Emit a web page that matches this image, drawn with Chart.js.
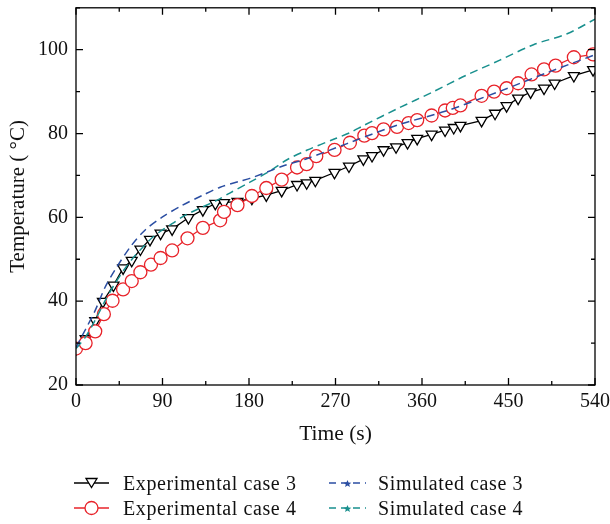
<!DOCTYPE html>
<html>
<head>
<meta charset="utf-8">
<script src="https://cdn.jsdelivr.net/npm/chart.js@4.4.1/dist/chart.umd.min.js"></script>
<style>
  html, body { margin: 0; padding: 0; background: #fff; }
  #wrap { position: relative; width: 610px; height: 524px; }
  #chart { position: absolute; left: 0; top: 0; }
  .leg { position: absolute; font-family: 'Liberation Serif', 'DejaVu Serif', serif; font-size: 20px; letter-spacing: 0.6px; color: #111; line-height: 22px; white-space: nowrap; }
  .leg svg { position: absolute; top: 0; left: 0; }
</style>
</head>
<body>
<div id="wrap">
  <canvas id="chart" width="610" height="524"></canvas>
  <div class="leg" style="left:74px; top:472px;"><svg width="40" height="22"><line x1="0" y1="11" x2="35" y2="11" stroke="#000" stroke-width="1.3"/><polygon points="12,6.5 23,6.5 17.5,15.5" fill="#fff" stroke="#000" stroke-width="1.3"/></svg><span style="margin-left:49px">Experimental case 3</span></div>
  <div class="leg" style="left:74px; top:497px;"><svg width="40" height="22"><line x1="0" y1="11" x2="35" y2="11" stroke="#e8232a" stroke-width="1.3"/><circle cx="17.5" cy="11" r="6.5" fill="#fff" stroke="#e8232a" stroke-width="1.3"/></svg><span style="margin-left:49px">Experimental case 4</span></div>
  <div class="leg" style="left:329px; top:472px;"><svg width="40" height="22"><line x1="0" y1="11" x2="37" y2="11" stroke="#2b4ea2" stroke-width="1.5" stroke-dasharray="7,5"/><polygon points="18.5,8 19.6,10.6 22.3,10.8 20.2,12.5 21,15 18.5,13.6 16,15 16.8,12.5 14.7,10.8 17.4,10.6" fill="#2b4ea2"/></svg><span style="margin-left:49px">Simulated case 3</span></div>
  <div class="leg" style="left:329px; top:497px;"><svg width="40" height="22"><line x1="0" y1="11" x2="37" y2="11" stroke="#19908e" stroke-width="1.5" stroke-dasharray="7,5"/><polygon points="18.5,8 19.6,10.6 22.3,10.8 20.2,12.5 21,15 18.5,13.6 16,15 16.8,12.5 14.7,10.8 17.4,10.6" fill="#19908e"/></svg><span style="margin-left:49px">Simulated case 4</span></div>
</div>
<script>
// --- DATA ---
// Experimental case 3 (open down triangles)
const exp3Time = [0, 10, 20, 28, 39, 49, 58, 67, 77, 88, 100, 117, 132, 145, 154, 168, 183, 198, 214, 230, 240, 249, 269, 284, 299, 308, 320, 333, 345, 355, 370, 384, 393, 400, 422, 436, 448, 460, 473, 487, 498, 518, 538];
const exp3Temp = [28.7, 31, 35.3, 39.9, 43.8, 47.9, 49.7, 52.4, 54.7, 56.2, 57.2, 59.9, 61.8, 63.3, 63.5, 63.8, 64.5, 65.3, 66.4, 67.8, 68.2, 68.8, 70.7, 72.2, 73.9, 74.7, 76.1, 76.8, 77.8, 78.8, 79.8, 80.8, 81.4, 81.9, 83.1, 84.8, 86.6, 88.4, 89.9, 90.8, 92.0, 93.8, 95.2];

// Experimental case 4 (open circles)
const exp4Time = [0, 10, 20, 29, 38, 49, 58, 67, 78, 88, 100, 116, 132, 150, 154, 168, 183, 198, 214, 230, 240, 250, 269, 285, 300, 308, 320, 334, 346, 355, 370, 384, 392, 400, 422, 435, 448, 460, 474, 487, 499, 518, 538];
const exp4Temp = [28.7, 30, 32.8, 36.9, 40.1, 42.8, 44.8, 46.9, 48.7, 50.3, 52.1, 55, 57.5, 59.3, 61.3, 62.9, 65.1, 67, 69, 71.9, 72.7, 74.6, 76.1, 77.8, 79.5, 80.1, 81, 81.6, 82.5, 83.2, 84.3, 85.5, 86.1, 86.7, 89, 90, 90.8, 92, 94.1, 95.3, 96.2, 98.2, 98.9];

// Simulated case 3 (blue dashed)
const sim3Time = [0, 10, 20, 30, 42, 58, 72, 90, 110, 132, 150, 170, 181, 216, 240, 282, 334, 384, 440, 490, 540];
const sim3Temp = [29, 33.3, 37.8, 43.2, 48, 53.4, 57, 60.1, 62.8, 65.3, 67.2, 68.6, 69.3, 72.3, 74, 77.6, 82, 85.3, 90, 94.5, 98.8];

// Simulated case 4 (teal dashed)
const sim4Time = [0, 10, 20, 30, 40, 50, 60, 70, 80, 90, 100, 112, 130, 146, 160, 181, 200, 220, 240, 270, 285, 300, 335, 372, 406, 441, 476, 511, 540];
const sim4Temp = [28.7, 31.5, 35.5, 40, 44, 47.5, 50.5, 53, 55.3, 57, 58.5, 60.3, 62.3, 64, 65.8, 68.4, 70.8, 73.8, 76, 78.8, 80.2, 82, 86, 90, 93.9, 97.5, 101.2, 103.8, 107.3];

// axis ranges / ticks
const X_MIN = 0, X_MAX = 540, X_STEP = 90;
const Y_MIN = 20, Y_MAX = 110, Y_STEP = 20;

const FONT = "'Liberation Serif', 'DejaVu Serif', serif";

const toPoints = (xs, ys) => xs.map((x, i) => ({ x: x, y: ys[i] }));

// frame with inward ticks on all four sides
const framePlugin = {
    id: 'frame',
    afterDatasetsDraw(chart) {
        const { ctx, chartArea: a, scales } = chart;
        ctx.save();
        ctx.strokeStyle = '#000';
        ctx.lineWidth = 1.3;
        ctx.strokeRect(a.left, a.top, a.right - a.left, a.bottom - a.top);
        ctx.beginPath();
        for (let v = X_MIN; v <= X_MAX; v += X_STEP / 2) {
            const px = scales.x.getPixelForValue(v);
            const len = v % X_STEP === 0 ? 7 : 4;
            ctx.moveTo(px, a.bottom); ctx.lineTo(px, a.bottom - len);
            ctx.moveTo(px, a.top); ctx.lineTo(px, a.top + len);
        }
        for (let v = Y_MIN; v <= Y_MAX; v += Y_STEP / 2) {
            const py = scales.y.getPixelForValue(v);
            const len = v % Y_STEP === 0 ? 7 : 4;
            ctx.moveTo(a.left, py); ctx.lineTo(a.left + len, py);
            ctx.moveTo(a.right, py); ctx.lineTo(a.right - len, py);
        }
        ctx.stroke();
        ctx.restore();
    }
};

new Chart(document.getElementById('chart'), {
    type: 'line',
    data: {
        datasets: [
            {
                label: 'Simulated case 3',
                data: toPoints(sim3Time, sim3Temp),
                borderColor: '#2b4ea2',
                borderWidth: 1.5,
                borderDash: [8, 5],
                pointRadius: 0,
                tension: 0.3
            },
            {
                label: 'Simulated case 4',
                data: toPoints(sim4Time, sim4Temp),
                borderColor: '#19908e',
                borderWidth: 1.5,
                borderDash: [8, 5],
                pointRadius: 0,
                tension: 0.3
            },
            {
                label: 'Experimental case 4',
                data: toPoints(exp4Time, exp4Temp),
                borderColor: '#e8232a',
                backgroundColor: '#fff',
                borderWidth: 1.3,
                pointStyle: 'circle',
                pointRadius: 6.5,
                pointBorderWidth: 1.3,
                pointBackgroundColor: '#fff'
            },
            {
                label: 'Experimental case 3',
                data: toPoints(exp3Time, exp3Temp),
                borderColor: '#000',
                backgroundColor: '#fff',
                borderWidth: 1.3,
                pointStyle: 'triangle',
                rotation: 180,
                pointRadius: 6.3,
                pointBorderWidth: 1.3,
                pointBackgroundColor: '#fff'
            }
        ]
    },
    options: {
        responsive: false,
        animation: false,
        layout: { padding: { top: 4, right: 15, bottom: 77, left: 0 } },
        plugins: { legend: { display: false }, tooltip: { enabled: false } },
        scales: {
            x: {
                type: 'linear',
                min: X_MIN, max: X_MAX,
                grid: { display: false, drawTicks: false },
                border: { display: false },
                ticks: { stepSize: X_STEP, padding: 5, color: '#111', font: { family: FONT, size: 20 } },
                title: { display: true, text: 'Time (s)', color: '#111', font: { family: FONT, size: 21.5 }, padding: { top: 0, bottom: 0 } },
                afterFit: (s) => { s.height = 62; s.paddingLeft = 0; s.paddingRight = 0; }
            },
            y: {
                type: 'linear',
                min: Y_MIN, max: Y_MAX,
                grid: { display: false, drawTicks: false },
                border: { display: false },
                ticks: { stepSize: Y_STEP, includeBounds: false, padding: 8, color: '#111', font: { family: FONT, size: 20 } },
                title: { display: true, text: 'Temperature ( °C)', color: '#111', font: { family: FONT, size: 21 }, padding: { top: 6, bottom: 0 } },
                afterFit: (s) => { s.width = 76; s.paddingTop = 0; s.paddingBottom = 0; }
            }
        }
    },
    plugins: [framePlugin]
});
</script>
</body>
</html>
